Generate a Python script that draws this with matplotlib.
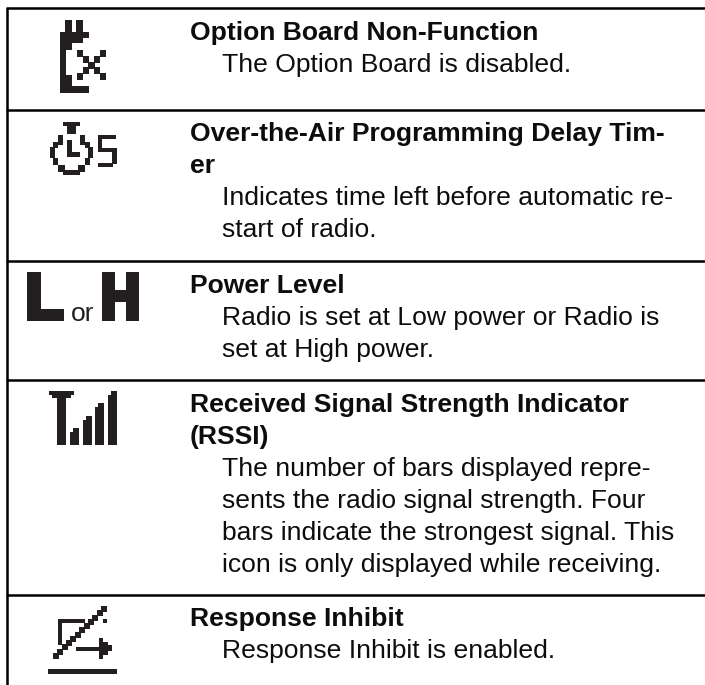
#!/usr/bin/env python3
"""Icon table page: status icons with their name and description."""

import matplotlib
matplotlib.use("Agg")
import matplotlib.pyplot as plt
from matplotlib.patches import Rectangle

INK = "#231f20"
TEXT = "#0d0d0d"
LINE = "#000000"

# one list of wrapped lines per row
TITLES = [
    ["Option Board Non-Function"],
    ["Over-the-Air Programming Delay Tim-", "er"],
    ["Power Level"],
    ["Received Signal Strength Indicator", "(RSSI)"],
    ["Response Inhibit"],
]
DESCRIPTIONS = [
    ["The Option Board is disabled."],
    ["Indicates time left before automatic re-", "start of radio."],
    ["Radio is set at Low power or Radio is", "set at High power."],
    ["The number of bars displayed repre-",
     "sents the radio signal strength. Four",
     "bars indicate the strongest signal. This",
     "icon is only displayed while receiving."],
    ["Response Inhibit is enabled."],
]
ROW_TOPS = [8, 109.5, 261, 380, 594.5]
TABLE_BOTTOM = 685

FONT = "Liberation Sans"
FONT_SIZE = 19.05
LINE_PITCH = 32


def block(ax, x0, y0, x1, y1):
    ax.add_patch(Rectangle((x0, y0), x1 - x0, y1 - y0,
                           facecolor=INK, edgecolor="none"))


def icon_option_board(ax):
    # pixelated radio body
    for b in [(65, 20, 72, 32), (76, 20, 83, 32), (60, 32, 89, 38),
              (60, 38, 83, 43), (60, 43, 72, 50), (60, 50, 66, 75),
              (60, 75, 72, 86), (60, 86, 89, 93)]:
        block(ax, *b)
    # the x
    for i in range(5):
        block(ax, 77 + i * 5.8, 50 + i * 5.8, 83 + i * 5.8, 57 + i * 5.8)
        block(ax, 100 - i * 5.8, 50 + i * 5.8, 106 - i * 5.8, 57 + i * 5.8)


def icon_timer(ax):
    # cap and stem
    block(ax, 63, 122, 80, 126)
    block(ax, 67, 126, 76, 134)
    # pixel ring of the clock, mirrored about the stem
    for x0, y0, x1, y1 in [(58, 135, 63, 145), (53, 142, 58, 148),
                           (50, 147, 55, 158), (53, 158, 58, 165),
                           (58, 165, 65, 172)]:
        block(ax, x0, y0, x1, y1)
        block(ax, 143 - x1, y0, 143 - x0, y1)
    block(ax, 63, 170, 80, 175)
    # hands
    block(ax, 67, 140, 72, 157)
    block(ax, 67, 152, 80, 157)
    # the 5
    for b in [(98, 135, 116, 139), (98, 135, 102, 151), (98, 148, 116, 152),
              (112, 148, 117, 164), (98, 163, 113, 167)]:
        block(ax, *b)


def icon_power(ax):
    block(ax, 27, 272, 41, 321)
    block(ax, 27, 309, 64, 321)
    block(ax, 102, 272, 115, 321)
    block(ax, 126, 272, 139, 321)
    block(ax, 102, 290, 139, 302)
    ax.text(71, 321, "or", family=FONT, fontsize=FONT_SIZE, color=INK,
            ha="left", va="baseline")


def icon_rssi(ax):
    block(ax, 49, 391, 74, 394.5)
    block(ax, 52, 394.5, 71, 398)
    block(ax, 57, 398, 66, 445)
    # four signal bars, rising
    for x0, top in zip([70, 83, 95, 108], [428, 416, 403, 391]):
        block(ax, x0, top + 4, x0 + 9, 445)
        block(ax, x0 + 3, top, x0 + 9, top + 4)


def icon_response(ax):
    # open box
    block(ax, 58, 619, 85, 623)
    block(ax, 58, 619, 62, 645)
    # diagonal, stepped
    for i in range(12):
        x = 53 + i * 4.36
        y = 659 - i * 4.27
        block(ax, x, y - 6, x + 6, y)
    block(ax, 103, 619, 107, 623)
    # arrow
    block(ax, 76, 646.5, 100, 651)
    block(ax, 99, 637.5, 103, 659)
    block(ax, 103, 641.5, 108, 655)
    block(ax, 108, 645, 112, 651)
    # underline
    block(ax, 48, 669, 117, 674)


def main():
    fig = plt.figure(figsize=(7.05, 6.85), dpi=100)
    ax = fig.add_axes([0, 0, 1, 1])
    ax.set_xlim(0, 705)
    ax.set_ylim(685, 0)
    ax.axis("off")

    # table rules
    ax.plot([6.5, 6.5], [ROW_TOPS[0], TABLE_BOTTOM], color=LINE, lw=1.8,
            solid_capstyle="butt")
    for y in ROW_TOPS:
        ax.plot([5.5, 705], [y, y], color=LINE, lw=1.8, solid_capstyle="butt")

    # text, one row at a time
    for top, title, desc in zip(ROW_TOPS, TITLES, DESCRIPTIONS):
        y = top + 31.7
        for line in title:
            ax.text(190, y, line, family=FONT, fontsize=FONT_SIZE, weight="bold",
                    color=TEXT, ha="left", va="baseline")
            y += LINE_PITCH
        for line in desc:
            ax.text(221.5, y, line, family=FONT, fontsize=FONT_SIZE,
                    color=TEXT, ha="left", va="baseline")
            y += LINE_PITCH

    icon_option_board(ax)
    icon_timer(ax)
    icon_power(ax)
    icon_rssi(ax)
    icon_response(ax)

    fig.savefig("out.png", dpi=100, facecolor="white")


if __name__ == "__main__":
    main()
